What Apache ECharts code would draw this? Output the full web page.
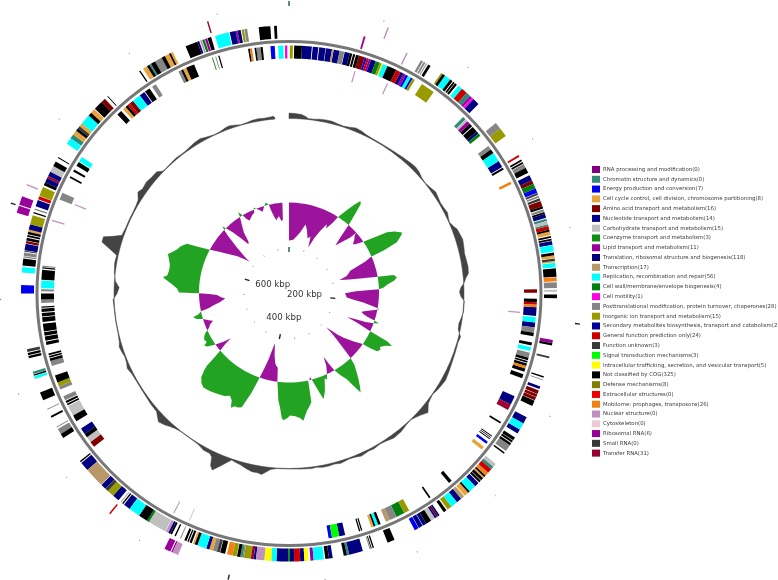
<!DOCTYPE html>
<html><head><meta charset="utf-8">
<style>html,body{margin:0;padding:0;background:#fff}#c{width:778px;height:580px}</style>
<script src="https://cdn.jsdelivr.net/npm/echarts@6/dist/echarts.min.js"></script>
</head><body><div id="c"></div>
<script>
// Legend categories (index is used by the track arrays below)
const categories = [
"RNA processing and modification(0)","Chromatin structure and dynamics(0)","Energy production and conversion(7)",
"Cell cycle control, cell division, chromosome partitioning(8)","Amino acid transport and metabolism(16)",
"Nucleotide transport and metabolism(14)","Carbohydrate transport and metabolism(15)","Coenzyme transport and metabolism(3)",
"Lipid transport and metabolism(11)","Translation, ribosomal structure and biogenesis(118)","Transcription(17)",
"Replication, recombination and repair(56)","Cell wall/membrane/envelope biogenesis(4)","Cell motility(1)",
"Posttranslational modification, protein turnover, chaperones(28)","Inorganic ion transport and metabolism(15)",
"Secondary metabolites biosynthesis, transport and catabolism(2)","General function prediction only(24)","Function unknown(3)",
"Signal transduction mechanisms(3)","Intracellular trafficking, secretion, and vesicular transport(5)","Not classified by COG(325)",
"Defense mechanisms(8)","Extracellular structures(0)","Mobilome: prophages, transposons(26)","Nuclear structure(0)",
"Cytoskeleton(0)","Ribosomal RNA(6)","Small RNA(0)","Transfer RNA(31)"];
const colors = ["#800080","#2E8B7A","#0000F0","#E8A43C","#800000","#00008C","#C0C0C0","#109010","#990099","#000080","#B89868",
"#00FFFF","#007F10","#FF00E0","#858585","#999900","#00009A","#CC0000","#383838","#00FF00","#FFFF00","#000000","#808000","#EE0000",
"#F08010","#C090C0","#EECAD2","#990099","#383838","#990033"];

// Genes: [start, end, category]; start/end are map positions in degrees clockwise from the origin (360 deg = about 750 kbp)
const trackOuterFar = [[20.3,20.6,25],[203,204.2,25],[204.2,204.5,8],[204.7,206,8],[219,219.3,17],[286.5,288,8],[288.2,290,8],[292.4,292.7,25],[343.2,343.5,29]];
const trackOuter = [[16.2,16.6,8],[26,26.3,25],[29.5,30,14],[30.2,30.6,14],[30.8,31,14],[31.3,31.9,21],
[34.6,35,15],[35,35.6,21],[35.6,37,11],[37,37.6,21],[37.8,38.2,21],[38.3,38.8,21],[39.2,40.2,11],[40.2,41.5,17],[41.5,42.5,1],[42.5,43,8],[43,43.5,13],[43.5,45,9],
[50.5,52,14],[52,54,15],[58.9,59.3,17],[60,60.4,21],[60.6,61,21],[61.1,62,14],[62,63.2,21],
[63.8,65,9],[65,65.8,4],[65.8,66.9,12],[66.9,67.9,2],[68,68.4,18],[68.6,69,14],[69.2,69.7,18],[69.8,71,4],[71,71.5,21],[71.7,72.2,14],[72.3,72.7,21],[72.7,73.6,9],[73.8,74.3,1],[74.3,75,6],[75,75.4,1],[75.4,76.2,17],[76.2,76.6,21],[76.6,77.4,3],[77.6,78,21],[78.2,78.6,21],[78.7,79.5,9],[79.6,81,11],[81.2,81.8,21],[81.8,82.4,3],[82.5,83,18],[83,83.3,3],[83.4,84.4,11],[84.6,86.4,21],[86.5,87.4,24],[87.6,88.8,14],[89.2,89.6,6],[90.2,91,21],
[100,100.7,8],[100.7,101.2,21],[103.6,104,18],[108,108.3,21],[108.7,108.9,14],[110.3,110.9,9],[111.2,112,4],[112.1,112.7,4],[112.8,113.5,4],[113.6,114.8,21],
[117.5,119,9],[119,120.5,11],[120.5,121.5,9],[122.5,123.2,21],[123.3,123.8,21],[124,124.5,21],[124.5,126,14],[126.4,126.7,21],
[129.5,130.3,6],[130.3,131,1],[131,132,17],[132,132.8,24],[132.8,133.2,21],[133.2,133.6,3],[133.6,134.2,21],[134.3,134.8,21],[135,136,9],[136,137.6,11],[137.6,138,21],[138,139,3],
[139.2,140,10],[140,141.2,9],[141.2,142.7,11],[142.7,143.7,15],[144,144.7,21],[145.8,146.2,9],[146.2,146.6,4],[146.6,147,9],[147,148,6],[148,149.2,21],[149.2,150,9],[150.1,151,9],[151.1,152,2],
[156.8,158.4,21],[161.5,161.8,21],[162,162.2,21],[162.3,162.5,14],[164,167,9],[167,167.5,1],[167.5,168.2,21],
[170.6,171.4,9],[171.4,172.2,21],[172.5,174.7,11],[174.7,175.4,8],[175.8,176.7,20],[176.7,177.6,9],[177.6,178.9,17],[178.9,179.8,9],[179.8,180.2,12],[180.2,182.7,9],
[182.7,183.8,11],[183.8,185.3,20],[185.3,187.1,25],[187.1,187.6,9],[187.6,188.2,29],[188.2,189.7,15],[189.7,190,14],[190,190.5,1],[190.5,191.2,21],[191.3,192.2,15],[192.2,193.4,24],[193.8,194.9,21],[195,195.6,18],[195.6,196.5,14],[196.5,197.3,3],[197.3,198,9],[198,200,11],[200,200.6,21],[200.6,201,3],[201.3,201.8,21],[202,202.3,21],[202.5,203,21],
[203.8,204,14],[205,205.3,21],[205.9,206.3,21],[206.3,206.8,9],[206.8,207.4,25],[207.5,211.5,6],[211.5,212,12],[212,214,21],[214,216.5,11],[216.5,218,9],[218.2,218.5,21],[218.7,219,6],
[219.5,221,9],[221,222.5,15],[222.5,223.2,18],[223.2,224.4,9],[224.5,228.8,10],[228.8,230.8,9],[231,231.3,21],
[237.4,238.4,21],[238.4,239.6,14],[240,240.2,14],[242.4,242.8,21],[244.3,244.5,14],[246.5,248.3,21],[251.4,252,11],[252.1,252.4,21],[252.5,253,1],[256,256.5,21],[256.7,257.2,21],[257.4,258,18],
[270,271.8,2],[274.5,275.7,11],[276,277.5,21],[277.7,278,14],[278.1,278.8,14],[279,279.2,21],[279.3,280.7,9],[280.8,281.3,4],[281.4,282,21],[282.2,282.6,21],[282.8,283.3,21],[283.3,283.8,3],[283.8,285,9],[285,287,15],[287.4,287.7,21],[288.2,288.5,14],[289,290.4,9],[290.6,291.3,17],[291.4,293.4,15],
[293.8,294.5,21],[294.5,295.5,9],[295.5,296,29],[296,297,9],[297,298.4,6],[298.4,299.5,21],[300.4,300.6,21],
[304,305.4,11],[305.4,306.4,1],[306.4,307.4,3],[307.4,308,21],[308,308.6,18],[308.6,309.4,3],[309.4,311.6,11],[311.6,312.4,21],[312.4,313.4,3],[313.6,315.6,21],[315.6,316.6,4],[317.3,317.5,21],
[326,326.3,21],[327,328,3],[328,328.6,21],[328.6,329,1],[329,330,21],[330,331.6,14],[331.6,332.4,21],[332.4,333.4,3],[333.4,333.8,21],[333.8,334.3,3],
[337.3,340,21],[340,340.4,9],[340.6,341,25],[341.1,341.6,12],[341.7,342.2,8],[342.3,343.1,21],[344,347,11],[347.2,348.5,9],[348.5,348.9,8],[348.9,349.6,9],[349.8,350.3,15],[350.4,351,14],[353.5,356,21],[356.8,357.4,21]];
const trackInner = [[0.2,0.9,15],[1.2,3,21],[3,5.3,9],[5.5,6.8,9],[7,8.5,9],[8.6,10,9],[10,10.4,10],[10.4,11.8,9],[11.8,12.9,14],[13,14.2,9],[14.2,14.8,21],[15,15.5,21],[15.7,16.4,21],[16.4,17.8,4],[17.8,18.3,2],[18.3,18.8,17],[18.8,19.3,8],[19.3,20.5,9],[20.5,21.5,12],[21.5,22,15],[22,22.2,20],[22.2,23.4,11],[23.4,25.6,21],[25.6,26.7,17],[26.7,27.5,9],[27.5,28.1,8],[28.1,28.7,2],[28.7,29.4,11],[29.4,29.9,2],[29.9,30.5,15],
[32.4,35.7,15],[44.6,45.4,1],[45.4,46,6],[46,46.8,8],[46.8,47.6,21],[47.8,49.2,21],[49.2,49.8,9],[49.8,50.5,12],[53.5,54.5,14],[54.5,55.5,21],[55.5,57.7,11],[57.7,59.3,9],[59.5,60,21],[63.2,63.8,24],
[89,89.8,4],[91.2,92,21],[92,92.6,17],[92.6,93.2,24],[93.2,95.2,9],[95.5,96.7,11],[96.7,97.9,9],[97.9,99.1,14],[99.1,99.9,21],[101.4,102.1,21],[102.5,103.4,11],[103.8,105,14],[105,105.6,21],[105.8,106.2,21],[106.4,107,21],[107,107.6,24],[107.6,108.4,21],[109,110,21],
[114.5,116.6,9],[116.6,118,29],[121.2,121.6,21],[125,125.2,21],[125.4,125.6,21],[125.8,126,21],[126.7,127.3,2],[128.2,129,3],[139,139.8,21],[145.2,145.6,21],
[151,152.3,15],[152.3,154.3,12],[154.3,156,14],[156,157,10],[158.3,158.9,21],[158.9,159.6,11],[159.6,160,21],[160,160.6,3],[162.8,163.1,21],[163.3,163.6,21],[166.9,168.3,9],[168.3,170,19],[170,170.8,2],
[203.6,203.8,6],[207.6,207.8,14],[231.8,233.2,4],[233.2,234.6,6],[234.6,235.5,21],[235.5,237,9],[239,240.5,21],[240.5,243,6],[243.2,243.6,21],[243.8,244.3,21],[244.5,245.5,14],[247.2,248,14],[248,249,15],[249,250.7,21],[253,254.2,14],[254.2,254.8,21],[255,255.4,21],[255.6,256,21],
[258,258.8,21],[259,260,21],[260.2,261,21],[261.2,263,21],[263.4,264.5,21],[264.7,265.5,21],[265.7,266.5,21],[266.7,267,21],[267.8,268.6,14],[268.6,270,21],[270.5,271,14],[271.2,273,11],[273.2,275.5,21],[275.8,276.1,21],[276.2,276.5,14],[287,287.3,25],[292.3,294,14],
[297.8,298.2,21],[299.5,300,21],[301,302,21],[302.2,303.4,11],[316.2,317.4,21],[318,318.8,3],[318.8,319.4,21],[319.4,320,17],[320,321,4],[321,323,11],[323,324.3,9],[324.5,325.8,21],[326.5,327.5,14],[333.5,334.2,14],[334.2,334.7,21],[334.7,335.5,3],[335.5,337.5,21],
[341.9,342.1,12],[342.7,342.9,14],[343.4,343.7,21],[350.5,350.9,21],[350.9,351.4,24],[352,352.4,21],[352.4,353.4,14],[353.4,353.9,21],[355.7,356.7,2],[357.5,358.7,11],[359.05,359.6,13]];
const trackInnerFar = [[16.4,16.7,25],[25,25.3,25],[94.5,94.8,25],[292.4,292.7,25]];

// GC content deviation: [position in degrees, deviation]; positive is drawn outward (green), negative inward (purple)
const gcContent = [[0,0],[0.01,-38],[4.6,-37],[8,-33],[10.4,-29],[13.7,-20],[16,-25],[19,-33],[21,-30],[23.2,-41],[25,-30],[27,-20],[29,-12],[30,-16],[32,-8],[33,0],
[35,10],[36.5,19],[38,26],[39,24],[40,14],[41.5,0],[43,-15],[44.6,-24],[46,-18],[48,-8],[48.4,0],[49,-3],[51,-6],[53,-10],[54,-8],[55.6,0],
[57,10],[58.4,25],[60,32],[62,38],[63,36],[65,29],[66,14],[66.5,0],[68,-8],[70.4,-25],[72,-27],[74,-30],[76,-38],[77,-33],[78,-28],[79,-15],[80,0],
[80.5,16],[82,19],[83.5,16],[85,10],[86,7],[87,5],[88,0],[89,-23],[90.7,-34],[93,-33],[95,-32],[96.5,-25],[97.7,-15],[99,-7],[100,0],[100.6,2],[101,0],
[102,-5],[103.5,-11],[104.9,-15],[106,-13],[107,-9],[108.2,0],[109,5],[110,0],[111,-8],[112,-20],[112.9,-27],[114,-15],[115.5,0],
[116.5,20],[117.5,26],[119,20],[121,16],[122,18],[123.7,16],[124.5,8],[125,0],[127,-8],[129.6,-19],[131,-26],[132.9,-39],[134,-28],[135.5,-14],[136.8,0],
[138,8],[139.8,15],[141,20],[143,28],[144.4,33],[145.5,22],[146.4,14],[148,8],[149.7,0],[150.8,-8],[151.8,-17],[153,-8],[155,0],
[156.5,5],[157.5,3],[159,10],[160,15],[162,22],[163,15],[164,8],[165.4,0],[166,-3],[167,0],[167.7,0],[168.5,22],[170,26],[171.5,30],[173.6,39],[175,36],[177,34],[179.5,33],[181,36],[182.6,38],[183.4,35],[184.5,25],[185.7,18],[186.5,8],[187.4,0],
[188.5,-14],[190,-16],[191,-18],[192,-22],[193,-26],[195.4,-37],[196,-33],[197,-20],[198,-10],[199,0],
[200.5,17],[202.4,34],[204,36],[205.5,36],[206.8,39],[208,32],[209.7,29],[212,32],[215,34],[218,36],[220,37],[222,38],[224,36],[226,32],[227.5,25],[228.3,20],[229,8],[229.8,0],
[231,-8],[231.9,-16],[233,-8],[234.7,0],[236.5,8],[237.9,10],[239,6],[241,7],[243,5],[244.6,2],[245,0],[246.5,-3],[248,-5],[249.6,-9],[251,-5],[252.8,0],[254,6],[255.5,9],[256.5,3],[258,0],
[259,-8],[260.5,-14],[262,-20],[264.6,-26],[266,-22],[268,-18],[269,-10],[269.5,0],[270,20],[272,22],[274.3,28],[276,34],[277,37],[278,33],[280,32],[282.6,32],[285,34],[287.6,37],[289,34],[291,30],[293,28],[294.1,26],[295.5,23],[296.5,13],[298.4,0],
[300,-8],[303,-20],[305,-27],[307,-35],[308,-40],[309,-33],[311,-20],[313,-6],[314,0],[314.8,4],[315.5,0],[317,-8],[318.5,-18],[320,-27],[321.5,-25],[323,-15],[325,-8],[326.5,-2],[327,0],[327.6,5],[329,0],[330,-5],[331.4,-8],[333,-6],[335,-4],[336.5,-3],[337,0],[337.5,2],[338.5,0],[340,-2],[342,-5],[344,0],[345.5,3],[347,0],[348,-8],[349,-13],[350.2,-17],[351,-15],[352.5,-13],[354,-18],[355.2,-17],[355.8,0],[360,0]];

// GC skew: [position in degrees, deviation from the ring baseline]
const gcSkew = [[0,5.5],[2,5],[4,4.5],[5.5,2.5],[6.3,1],[8,1],[10,2],[12,2.5],[14,2.5],[16,1.5],[18,1],[20,2],[22,3.5],[24,3],[26,1.5],[28,1],[32,1],[36,1.5],[40,2.5],[43,3.5],[45,4],[47,3],[49,1],[51,0.5],[53,1.5],[55.3,3.5],[57,2.5],[59,1.5],[61,2],[62.9,3],[64.5,1.5],[66,0.5],[68,3],[69,5],[71,6],[72.7,7],[75,6],[77.2,5],[79.5,5.5],[81.5,6],[83.6,5.5],[85,2.5],[86.5,0.5],[88,-3],[89.5,-4.5],[91,-3],[92.5,0.5],[96,0.5],[98,-1],[100,-2.5],[102,-2],[104.2,2],[106,1],[110,1.5],[113,2],[116,3],[119,4],[121,3],[123,2],[125,0.5],[127,1.5],[128.3,2.5],[130.6,8],[132.9,4],[134.5,2],[136,0.5],[138,1],[141,3],[144,3.5],[147,1.5],[149,1],[151.4,2],[153,1.5],[156,3],[158,1.5],[160,1],[163,2.5],[165,1.5],[167,2],[169,2],[171,1],[172.7,1.5],[176,1],[180,0.5],[184,0.5],[186,2],[188.6,8],[190,7],[191.8,7],[194,5],[196,3],[197.8,2],[199,1],[201.8,11],[203.5,17.5],[204.5,14],[205.3,6],[206.3,3.5],[208.7,3.5],[210,2],[211.5,1],[214,0.5],[218,0.5],[220,1.5],[221.8,3.5],[223.5,6],[225.5,8],[227,5],[228.2,2.5],[231.5,2],[233,1.5],[236,1],[240,1],[243,1.5],[245.1,3.3],[247,1.5],[249,1],[250.5,2],[252.5,3],[254,1.5],[257,0.5],[261,0.5],[265,0.5],[268,1],[270,-3],[272,-5],[274,-1],[277,1],[280,2],[282.5,1.5],[284,10],[285.4,19],[287,19],[288,10],[289.2,2],[292,1],[295,1],[297.7,1],[300,1.5],[301.8,2.5],[303.9,7],[305.5,5],[308.1,6],[310,5],[312.6,4.7],[314,1],[315,0.5],[318,1],[320.2,1.5],[322,1],[323.8,1],[326,2],[328,3],[330.1,3.5],[332,2],[334.7,0.5],[337,1],[339,2.5],[340.3,3],[342,2],[344,0.5],[346,1],[348,2],[350,2.5],[352,2],[354,2.5],[355,3],[355.4,1]];

// Scale
const genomeKbp = 750;
const majorTicksKbp = [0,200,400,600];
const minorTicksKbp = [40,80,120,160,240,280,320,360,440,480,520,560,640,680,720];
const scaleLabels = [["200 kbp",95.5,15.6],["400 kbp",192,24.8],["600 kbp",299.4,18.7]];

const trackRadii = [[272,284],[255,268],[235,248],[220,232]];
const tracks = [trackOuterFar,trackOuter,trackInner,trackInnerFar];
const ringRadius = 252, gcRadius = 90, skewRadius = 175, innerScale = 44, outerScale = 290;
const toDeg = k => k*360/genomeKbp;

function arcPoly(api,r0,r1,s,e){
  const m=(s+e)/2;
  return [[r0,s],[r0,m],[r0,e],[r1,e],[r1,m],[r1,s]].map(p=>api.coord(p));
}
const geneSeries = categories.map((name,c)=>{
  const data=[];
  tracks.forEach((t,i)=>t.forEach(g=>{ if(g[2]===c) data.push([trackRadii[i][0],g[0],g[1],trackRadii[i][1]]); }));
  return {name,type:'custom',coordinateSystem:'polar',polarIndex:0,itemStyle:{color:colors[c]},data,silent:true,
    renderItem:(p,api)=>({type:'polygon',shape:{points:arcPoly(api,api.value(0),api.value(3),api.value(1),api.value(2))},style:{fill:colors[c]}})};
});
function profile(name,rows,base,pick,color,polarIndex,stroke){
  return {name,type:'custom',coordinateSystem:'polar',polarIndex,silent:true,data:rows.map(r=>[base,r[0],r[1]]),
    renderItem:(p,api)=>{
      if(p.dataIndex!==0) return;
      const outer=rows.map(r=>api.coord([base+pick(r[1]),r[0]]));
      const inner=rows.slice().reverse().map(r=>api.coord([base,r[0]]));
      return {type:'polygon',shape:{points:outer.concat(inner)},style:{fill:color,stroke:stroke||null,lineWidth:stroke?0.5:0}};
    }};
}
const radial=(api,a,r0,r1,color,w)=>{
  const A=api.coord([r0,a]),B=api.coord([r1,a]);
  return {type:'line',shape:{x1:A[0],y1:A[1],x2:B[0],y2:B[1]},style:{stroke:color,lineWidth:w}};
};
const tickSeries = {name:'scale',type:'custom',coordinateSystem:'polar',polarIndex:0,silent:true,
  data:majorTicksKbp.map(k=>[innerScale,toDeg(k),k]),
  renderItem:(p,api)=>{
    const a=api.value(1),c=api.value(2)===0?'#1f5a44':'#222';
    return {type:'group',children:[radial(api,a,innerScale-2.5,innerScale+2.5,c,1.4),radial(api,a,outerScale-2.5,outerScale+2.5,c,1.4)]};
  }};
const minorSeries = {name:'minor',type:'custom',coordinateSystem:'polar',polarIndex:0,silent:true,
  data:minorTicksKbp.map(k=>[innerScale,toDeg(k)]),
  renderItem:(p,api)=>{
    const a=api.value(1);
    return {type:'group',children:[radial(api,a,innerScale+0.5,innerScale+1.5,'#777',1),radial(api,a,outerScale-2,outerScale-1,'#666',1)]};
  }};
const labelSeries = {name:'labels',type:'custom',coordinateSystem:'polar',polarIndex:0,silent:true,
  data:scaleLabels.map(l=>[l[2],l[1]]),
  renderItem:(p,api)=>{
    const P=api.coord([api.value(0),api.value(1)]);
    return {type:'text',x:P[0],y:P[1],style:{text:scaleLabels[p.dataIndex][0],fill:'#333',font:'8.6px "DejaVu Sans"',align:'center',verticalAlign:'middle'}};
  }};
const ringSeries = {name:'ring',type:'custom',coordinateSystem:'polar',polarIndex:0,silent:true,data:[[ringRadius,0]],
  renderItem:(p,api)=>{
    const c=api.coord([0,0]),q=api.coord([api.value(0),0]);
    return {type:'circle',shape:{cx:c[0],cy:c[1],r:Math.abs(q[1]-c[1])},style:{fill:'none',stroke:'#777',lineWidth:3}};
  }};
const ax = i => ({polarIndex:i,min:0,max:360,startAngle:90,clockwise:true,type:'value',show:false,axisLine:{show:false},splitLine:{show:false},axisLabel:{show:false},axisTick:{show:false}});
const rx = i => ({polarIndex:i,min:0,max:300,type:'value',show:false,axisLine:{show:false},splitLine:{show:false},axisLabel:{show:false},axisTick:{show:false}});
const chart = echarts.init(document.getElementById('c'),null,{renderer:'canvas'});
chart.setOption({
  animation:false,backgroundColor:'#fff',
  polar:[{center:[289,293.5],radius:300},{center:[289,292.5],radius:300}],
  angleAxis:[ax(0),ax(1)],radiusAxis:[rx(0),rx(1)],
  legend:{data:categories,orient:'vertical',left:592,top:166,padding:0,itemWidth:8,itemHeight:7,itemGap:2.78,icon:'rect',selectedMode:false,
    textStyle:{fontFamily:'"DejaVu Sans"',fontSize:5.4,color:'#3a3a3a',padding:[0,0,0,-2],lineHeight:7}},
  series:[ringSeries,...geneSeries,
    profile('gc+',gcContent,gcRadius,v=>Math.max(v,0),'#22A322',1),
    profile('gc-',gcContent,gcRadius,v=>Math.min(v,0),'#9C149C',1),
    profile('skew',gcSkew,skewRadius,v=>v,'#444444',0,'#444444'),
    tickSeries,minorSeries,labelSeries]
});
</script></body></html>
